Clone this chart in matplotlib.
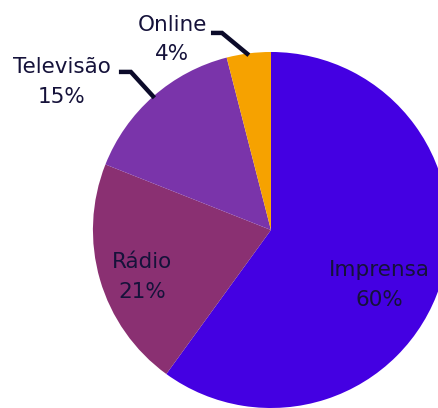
import numpy as np
import matplotlib
matplotlib.use("Agg")
import matplotlib.pyplot as plt

# Share of media (%)
categories = ["Imprensa", "Rádio", "Televisão", "Online"]
shares = [60, 21, 15, 4]
colors = ["#4400E2", "#8A3072", "#7A34AA", "#F6A200"]
text_color = "#15123A"

fig = plt.figure(figsize=(4.39, 4.08), dpi=100)
ax = fig.add_axes([0, 0, 1, 1])

wedges, _ = ax.pie(shares, colors=colors, startangle=90, counterclock=False,
                   radius=1.0, center=(0, 0),
                   wedgeprops=dict(linewidth=0))

# view window: pie centred left of middle, partly cropped at right/bottom
ax.set_xlim(-1.522, 0.944)
ax.set_ylim(-1.0, 1.292)
ax.set_aspect("auto")
ax.axis("off")

font = dict(family="DejaVu Sans", size=15.5, color=text_color,
            ha="center", va="center", linespacing=1.6)

def mid_angle(w):
    return np.deg2rad((w.theta1 + w.theta2) / 2)

# labels inside the two large wedges
inside = {0: (-0.157, 0.681), 1: (0.066, 0.771)}   # angle offset (rad), radial distance
for i, (dang, dist) in inside.items():
    a = mid_angle(wedges[i]) + dang
    ax.text(dist * np.cos(a), dist * np.sin(a),
            f"{categories[i]}\n{shares[i]}%", **font)

# labels outside the two small wedges, joined by leader lines
# (label centre x, y, leader start x, leader y, elbow x)
outside = {3: (-0.556, 1.070, -0.337, 1.107, -0.275),
           2: (-1.174, 0.831, -0.854, 0.888, -0.787)}
for i, (lx, ly, sx, sy, kx) in outside.items():
    a = mid_angle(wedges[i])
    ex, ey = 0.99 * np.cos(a), 0.99 * np.sin(a)
    ax.plot([sx, kx, ex], [sy, sy, ey], color="#0C0B2A",
            lw=3.2, solid_capstyle="butt", solid_joinstyle="miter")
    ax.text(lx, ly, f"{categories[i]}\n{shares[i]}%", **font)

fig.savefig("out.png", dpi=100)
